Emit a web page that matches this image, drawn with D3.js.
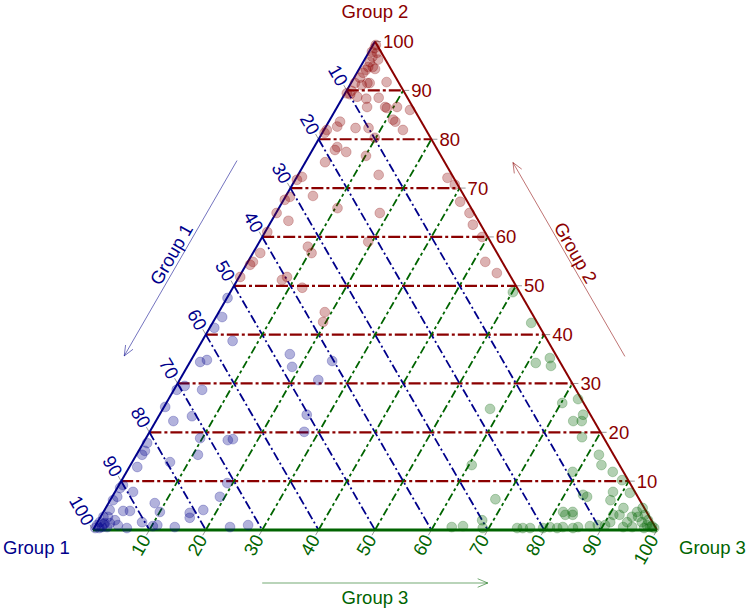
<!DOCTYPE html>
<html><head><meta charset="utf-8">
<script src="https://cdn.jsdelivr.net/npm/d3@7"></script>
<style>body{margin:0;background:#fff}svg{display:block}text{font-family:"Liberation Sans",Arial,sans-serif}</style>
</head><body>
<script>
// ---------- data ----------
const axisNames = ["Group 1", "Group 2", "Group 3"];
const tickValues = [10, 20, 30, 40, 50, 60, 70, 80, 90, 100];
const gridValues = [10, 20, 30, 40, 50, 60, 70, 80, 90];

// compositions [Group 1, Group 2, Group 3] (percent)
const group2Pts = [
 [0.7,98.7,0.6],[0.8,97.7,1.5],[2.0,96.9,1.1],[1.3,96.3,2.4],[3.0,95.8,1.2],[3.0,94.8,2.2],[3.8,94.8,1.4],
 [4.5,94.2,1.3],[2.8,94.4,2.8],[5.3,93.6,1.1],[6.4,92.6,1.0],[7.8,91.5,0.7],[6.8,91.1,2.1],[5.6,91.5,2.9],
 [5.2,91.5,3.3],[2.1,91.7,6.2],[9.2,89.9,0.9],[9.8,89.2,1.0],[10.3,89.4,0.3],[7.4,88.3,4.3],[5.1,88.5,6.4],
 [4.9,86.6,8.5],[4.7,86.4,8.9],[2.8,86.6,10.6],[0.8,86.0,13.2],[8.1,86.6,5.3],[4.8,84.0,11.2],[4.6,83.6,11.8],
 [4.1,81.9,14.0],[10.0,82.3,7.7],[12.3,82.3,5.4],[14.4,83.6,2.0],[15.4,82.6,2.0],[17.6,81.9,0.5],[18.3,81.3,0.4],
 [9.9,80.3,9.8],[17.5,78.4,4.1],[18.2,77.8,4.0],[16.4,77.4,6.2],[13.3,76.6,10.1],[21.2,75.3,3.5],[13.0,72.7,14.3],
 [26.8,72.3,0.9],[28.0,71.7,0.3],[1.1,72.1,26.8],[0.5,70.7,28.8],[26.8,68.4,4.8],[31.0,68.2,0.8],[32.2,67.6,0.2],
 [23.7,65.9,10.4],[1.3,67.2,31.5],[16.7,64.9,18.4],[0.8,64.9,34.3],[35.0,64.9,0.1],[33.7,63.3,3.0],[1.4,62.5,36.1],
 [38.6,61.0,0.4],[1.0,60.0,39.0],[21.7,59.0,19.3],[32.9,58.0,9.1],[32.9,56.7,10.4],[42.0,56.7,1.3],[44.2,54.9,0.9],
 [45.0,54.3,0.7],[3.0,54.9,42.1],[2.1,52.6,45.3],[39.7,51.8,8.5],[40.9,51.2,7.9],[48.0,51.8,0.2],[38.1,49.6,12.3],
 [36.6,44.6,18.8],[37.9,42.6,19.5],[8.8,88.7,2.5],[0.2,99.3,0.5],[1.6,97.9,0.5]
];
const group1Pts = [
 [52.4,47.5,0.1],[55.3,43.6,1.1],[57.8,41.4,0.8],[55.9,38.7,5.4],[63.8,34.4,1.8],[62.4,34.8,2.8],[69.0,29.5,1.5],
 [66.3,28.7,5.0],[70.8,28.7,0.5],[74.6,25.2,0.2],[47.1,36.0,16.9],[48.0,33.4,18.6],[40.3,34.6,25.1],[44.7,30.7,24.6],
 [50.3,23.6,26.1],[52.5,20.1,27.4],[70.8,23.3,5.9],[74.6,22.3,3.1],[71.6,18.8,9.6],[66.9,18.4,14.7],[65.9,18.6,15.5],
 [81.5,17.8,0.7],[82.7,16.2,1.1],[83.6,15.4,1.0],[79.4,13.9,6.7],[73.7,15.4,10.9],[85.7,12.9,1.4],[71.4,9.6,19.0],
 [90.1,9.2,0.7],[74.1,6.8,19.1],[86.3,5.5,8.2],[86.3,3.7,10.0],[78.4,4.1,17.5],[81.1,3.5,15.4],[81.6,2.5,15.9],
 [92.7,3.9,3.4],[91.5,3.9,4.6],[90.5,1.6,7.9],[89.0,0.8,10.2],[88.1,1.0,10.9],[95.1,2.0,2.9],[95.1,1.0,3.9],
 [96.3,1.4,2.3],[96.8,2.7,0.5],[97.2,1.4,1.4],[72.0,1.0,27.0],[98.8,1.0,0.2],[98.0,1.6,0.4],[98.1,0.6,1.3],
 [97.2,0.6,2.2],[96.0,2.7,1.3],[95.0,4.1,0.9],[93.4,6.1,0.5],[92.3,6.8,0.9],[90.9,8.6,0.5],[89.0,7.8,3.2],
 [93.8,0.4,5.8],[85.2,0.6,14.2],[75.4,0.6,24.0],[99.4,0.4,0.2],[98.7,0.4,0.9],[97.5,1.2,1.3]
];
const group3Pts = [
 [1.2,48.7,50.1],[1.1,42.4,56.5],[4.4,34.2,61.4],[1.4,35.2,63.4],[2.0,33.6,64.4],[3.8,26.0,70.2],[0.6,26.8,72.6],
 [17.2,24.8,58.0],[1.3,23.6,75.1],[2.2,22.3,75.5],[3.7,22.3,74.0],[3.8,19.0,77.2],[2.6,15.4,82.0],[3.2,13.3,83.5],
 [1.9,11.9,86.2],[9.0,11.9,79.1],[26.2,13.3,60.5],[1.1,10.2,88.7],[1.0,7.6,91.4],[3.9,7.8,88.3],[5.2,6.1,88.7],
 [9.0,6.8,84.2],[25.5,6.3,68.2],[3.7,4.5,91.8],[1.7,3.7,94.6],[2.0,2.7,95.3],[3.1,2.7,94.2],[5.1,3.1,91.8],
 [6.2,3.1,90.7],[7.5,1.6,90.9],[14.7,3.1,82.2],[13.4,3.1,83.5],[30.0,2.0,68.0],[30.7,0.4,68.9],[16.4,0.6,83.0],
 [18.7,0.6,80.7],[14.7,0.4,84.9],[13.7,0.6,85.7],[11.5,0.8,87.7],[10.0,1.0,89.0],[8.7,1.0,90.3],[5.7,0.6,93.7],
 [4.1,0.6,95.3],[1.9,1.6,96.5],[0.6,3.1,96.3],[0.3,4.5,95.2],[1.3,1.0,97.7],[0.9,0.6,98.5],[24.6,0.4,75.0],
 [23.6,0.4,76.0],[22.3,0.4,77.3],[20.0,0.4,79.6],[17.5,0.4,82.1],[9.5,7.2,83.3],[13.1,3.7,83.2],[14.8,3.7,81.5],
 [4.5,1.6,93.9],[0.5,0.8,98.7],[0.3,0.4,99.3],[0.6,2.0,97.4],[2.1,0.4,97.5],[36.1,0.6,63.3],[34.0,0.8,65.2]
];

// ---------- layout ----------
const W = 749, H = 608;
const C1 = "#00008B", C2 = "#8B0000", C3 = "#006400";
const leftX = 93, rightX = 657, baseY = 530;
const side = rightX - leftX, triH = side * Math.sqrt(3) / 2;
const xs = d3.scaleLinear().domain([0, 100]).range([leftX, rightX]);
const ys = d3.scaleLinear().domain([0, 100]).range([baseY, baseY - triH]);
function P(a, b, c) { const s = a + b + c; const B = b / s * 100, Cc = c / s * 100; return [xs(Cc + B / 2), ys(B)]; }
const FS = "18.5px";

const svg = d3.select("body").append("svg").attr("width", W).attr("height", H);
const line = d3.line();

// gridlines
const g = svg.append("g");
g.selectAll(".gr2").data(gridValues).join("path")
 .attr("d", v => line([P(100 - v, v, 0), P(0, v, 100 - v)]))
 .attr("stroke", C2).attr("stroke-width", 2.2).attr("fill", "none").attr("stroke-dasharray", "12,3,3,3");
g.selectAll(".gr1").data(gridValues).join("path")
 .attr("d", v => line([P(v, 100 - v, 0), P(v, 0, 100 - v)]))
 .attr("stroke", C1).attr("stroke-width", 1.8).attr("fill", "none").attr("stroke-dasharray", "9,3,2,3");
g.selectAll(".gr3").data(gridValues).join("path")
 .attr("d", v => line([P(100 - v, 0, v), P(0, 100 - v, v)]))
 .attr("stroke", C3).attr("stroke-width", 1.8).attr("fill", "none").attr("stroke-dasharray", "8,3,3,3");

// ticks
const tl = 6, s3 = Math.sqrt(3) / 2;
const tk = svg.append("g").attr("stroke", "#999").attr("stroke-width", 1);
tickValues.forEach(v => {
  const r = P(0, v, 100 - v); tk.append("line").attr("x1", r[0]).attr("y1", r[1]).attr("x2", r[0] + tl).attr("y2", r[1]);
  const l = P(v, 100 - v, 0); tk.append("line").attr("x1", l[0]).attr("y1", l[1]).attr("x2", l[0] - 0.5 * tl).attr("y2", l[1] - s3 * tl);
  const b = P(100 - v, 0, v); tk.append("line").attr("x1", b[0]).attr("y1", b[1]).attr("x2", b[0] - 0.5 * tl).attr("y2", b[1] + s3 * tl);
});

// edges
svg.append("path").attr("d", line([P(100,0,0), P(0,100,0)])).attr("stroke", C1).attr("stroke-width", 2).attr("fill", "none");
svg.append("path").attr("d", line([P(0,100,0), P(0,0,100)])).attr("stroke", C2).attr("stroke-width", 2).attr("fill", "none");
svg.append("path").attr("d", line([P(100,0,0), P(0,0,100)])).attr("stroke", C3).attr("stroke-width", 3).attr("fill", "none");

// tick labels
const lab = svg.append("g").attr("font-size", FS);
tickValues.forEach(v => {
  const r = P(0, v, 100 - v);
  lab.append("text").attr("x", r[0] + 8).attr("y", r[1]).attr("dy", "0.35em").attr("fill", C2).text(v);
  const l = P(v, 100 - v, 0), d = 7;
  lab.append("text").attr("transform", `translate(${l[0] - 0.5 * d},${l[1] - s3 * d}) rotate(60)`)
   .attr("text-anchor", "end").attr("dy", "0.35em").attr("fill", C1).text(v);
  const b = P(100 - v, 0, v);
  lab.append("text").attr("transform", `translate(${b[0] - 0.5 * d},${b[1] + s3 * d}) rotate(-60)`)
   .attr("text-anchor", "end").attr("dy", "0.35em").attr("fill", C3).text(v);
});

// points
function drawPts(data, col) {
  svg.append("g").selectAll("circle").data(data).join("circle")
   .attr("cx", d => P(...d)[0]).attr("cy", d => P(...d)[1]).attr("r", 4.9)
   .attr("fill", col).attr("fill-opacity", 0.3).attr("stroke", col).attr("stroke-opacity", 0.3).attr("stroke-width", 0.8);
}
drawPts(group2Pts, C2);
drawPts(group1Pts, C1);
drawPts(group3Pts, C3);

// vertex titles
const T = svg.append("g").attr("font-size", FS);
const vTop = P(0, 100, 0);
T.append("text").attr("x", vTop[0]).attr("y", 12).attr("dy", "0.35em").attr("text-anchor", "middle").attr("fill", C2).text(axisNames[1]);
T.append("text").attr("x", 3).attr("y", 548).attr("dy", "0.35em").attr("fill", C1).text(axisNames[0]);
T.append("text").attr("x", 679).attr("y", 548).attr("dy", "0.35em").attr("fill", C3).text(axisNames[2]);

// side arrows with labels
function along(p0, p1, t, nx, ny, off) {
  return [p0[0] + (p1[0] - p0[0]) * t + nx * off, p0[1] + (p1[1] - p0[1]) * t + ny * off];
}
function arrow(a, b, col) {
  const ang = Math.atan2(b[1] - a[1], b[0] - a[0]), hl = 11, ha = 0.4;
  const gA = svg.append("g").attr("stroke", col).attr("stroke-opacity", 0.55).attr("stroke-width", 1).attr("fill", "none");
  gA.append("path").attr("d", line([a, b]));
  gA.append("path").attr("d", line([[b[0] - hl * Math.cos(ang - ha), b[1] - hl * Math.sin(ang - ha)], b,
    [b[0] - hl * Math.cos(ang + ha), b[1] - hl * Math.sin(ang + ha)]]));
}
const vBL = P(100,0,0), vT = P(0,100,0), vBR = P(0,0,100);
arrow(along(vBL, vT, 0.695, -s3, -0.5, 60), along(vBL, vT, 0.295, -s3, -0.5, 60), C1);
const lt = along(vBL, vT, 0.493, -s3, -0.5, 70);
T.append("text").attr("transform", `translate(${lt[0]},${lt[1]}) rotate(-60)`).attr("text-anchor", "middle").attr("dy", "0.35em").attr("fill", C1).text(axisNames[0]);
arrow(along(vBR, vT, 0.295, s3, -0.5, 59), along(vBR, vT, 0.692, s3, -0.5, 59), C2);
const rt = along(vBR, vT, 0.498, s3, -0.5, 68);
T.append("text").attr("transform", `translate(${rt[0]},${rt[1]}) rotate(60)`).attr("text-anchor", "middle").attr("dy", "0.35em").attr("fill", C2).text(axisNames[1]);
arrow(along(vBL, vBR, 0.30, 0, 1, 53), along(vBL, vBR, 0.70, 0, 1, 53), C3);
const bt = along(vBL, vBR, 0.5, 0, 1, 68);
T.append("text").attr("x", bt[0]).attr("y", bt[1]).attr("text-anchor", "middle").attr("dy", "0.35em").attr("fill", C3).text(axisNames[2]);
</script>
</body></html>
